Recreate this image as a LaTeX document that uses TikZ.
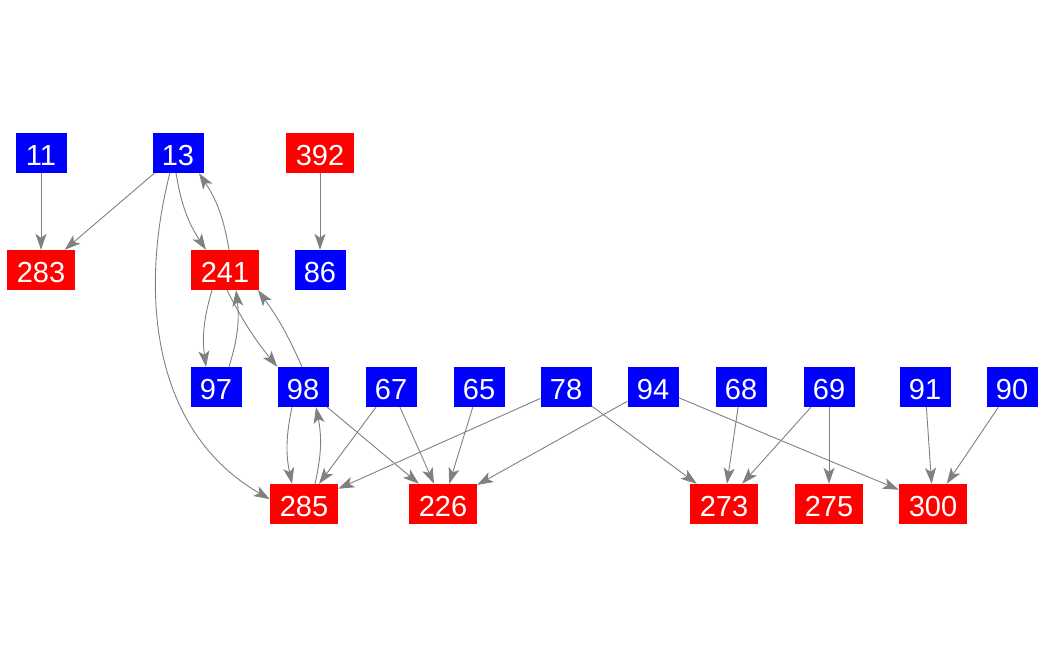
\documentclass[tikz,border=0pt]{standalone}
\usepackage{fontspec}
\setmainfont{Liberation Sans}
\usetikzlibrary{arrows.meta}
\definecolor{edgegray}{RGB}{128,128,128}
\tikzset{
  vbox/.style={rectangle, inner sep=0pt, minimum height=40pt, text=white,
    font=\fontsize{29}{29}\selectfont, text height=25pt, text depth=0pt},
  bluebox/.style={vbox, fill={rgb,255:red,0;green,0;blue,255}, minimum width=51pt},
  redbox/.style={vbox, fill={rgb,255:red,255;green,0;blue,0}, minimum width=68pt},
  link/.style={draw=edgegray, line width=0.9pt,
    -{Stealth[length=16pt,width=11pt,inset=4pt]}},
}
\begin{document}
\begin{tikzpicture}[x=1pt,y=-1pt]
\useasboundingbox (0,0) rectangle (1046,656);
% row 1
\node[bluebox] (n11) at (41,153) {11};
\node[bluebox] (n13) at (178,153) {13};
\node[redbox]  (n392) at (320,153) {392};
% row 2
\node[redbox]  (n283) at (41,270) {283};
\node[redbox]  (n241) at (225,270) {241};
\node[bluebox] (n86) at (320,270) {86};
% row 3
\node[bluebox] (n97) at (216,387) {97};
\node[bluebox] (n98) at (303,387) {98};
\node[bluebox] (n67) at (391,387) {67};
\node[bluebox] (n65) at (479,387) {65};
\node[bluebox] (n78) at (566,387) {78};
\node[bluebox] (n94) at (653,387) {94};
\node[bluebox] (n68) at (741,387) {68};
\node[bluebox] (n69) at (829,387) {69};
\node[bluebox] (n91) at (925,387) {91};
\node[bluebox] (n90) at (1012,387) {90};
% row 4
\node[redbox] (n285) at (304,504) {285};
\node[redbox] (n226) at (443,504) {226};
\node[redbox] (n273) at (724,504) {273};
\node[redbox] (n275) at (829,504) {275};
\node[redbox] (n300) at (933,504) {300};
% edges
\draw[link] (n11) -- (n283);
\draw[link] (n13) -- (n283);
\draw[link] ([xshift=-2pt]n13.south) to[bend right=12] ([xshift=-19pt]n241.north);
\draw[link] ([xshift=4pt]n241.north) to[bend right=12] ([xshift=21pt]n13.south);
\draw[link] (n13.-112) .. controls (140,290) and (150,430) .. (n285.172);
\draw[link] (n392) -- (n86);
\draw[link] ([xshift=-13pt]n241.south) to[bend right=12] ([xshift=-10pt]n97.north);
\draw[link] ([xshift=13pt]n97.north) to[bend right=12] ([xshift=11pt]n241.south);
\draw[link] ([xshift=2pt]n241.south) to[bend right=6] (n98.north west);
\draw[link] ([xshift=-1pt]n98.north) to[bend right=6] ([xshift=33pt]n241.south);
\draw[link] ([xshift=-11pt]n98.south) to[bend right=12] ([xshift=-12pt]n285.north);
\draw[link] ([xshift=11pt]n285.north) to[bend right=12] ([xshift=13pt]n98.south);
\draw[link] (n98) -- (n226);
\draw[link] (n67) -- (n285);
\draw[link] (n67) -- (n226);
\draw[link] (n65) -- (n226);
\draw[link] (n78) -- (n285);
\draw[link] (n78) -- (n273);
\draw[link] (n94) -- (n226);
\draw[link] (n94) -- (n300);
\draw[link] (n68) -- (n273);
\draw[link] (n69) -- (n273);
\draw[link] (n69) -- (n275);
\draw[link] (n91) -- (n300);
\draw[link] (n90) -- (n300);
\end{tikzpicture}
\end{document}
